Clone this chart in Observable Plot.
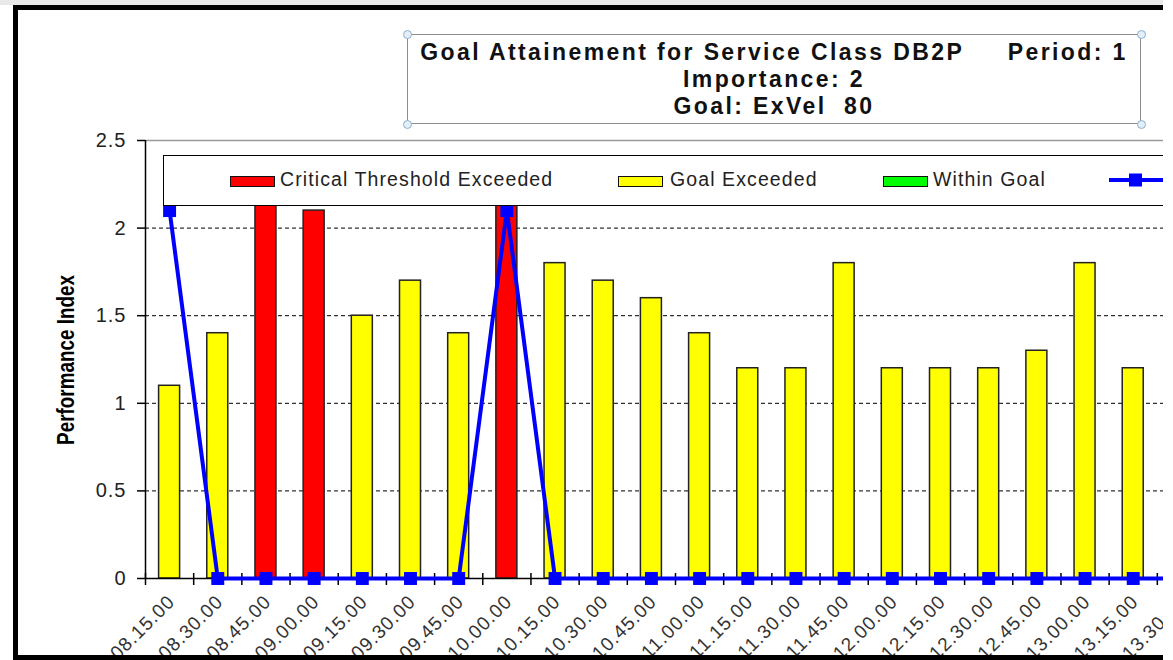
<!DOCTYPE html>
<html><head><meta charset="utf-8">
<script src="https://cdn.jsdelivr.net/npm/d3@7"></script>
<script src="https://cdn.jsdelivr.net/npm/@observablehq/plot@0.6"></script>
<style>
html,body{margin:0;padding:0;background:#fff;}
#wrap{position:relative;width:1163px;height:660px;overflow:hidden;background:#fff;font-family:"Liberation Sans",Arial,sans-serif;}
#topstrip{position:absolute;left:0;top:0;width:1163px;height:5px;background:#e9e9e9;}
#chart{position:absolute;left:0;top:0;width:1220px;height:660px;}
#chart svg{max-width:none !important;display:block;}
#chart svg text{letter-spacing:1px;}
#frame{position:absolute;left:13px;top:5px;width:1300px;height:655px;border:5px solid #000;box-sizing:border-box;pointer-events:none;}
#title{position:absolute;left:407px;top:34px;width:734px;height:90px;border:1.5px solid #8c8c8c;box-sizing:border-box;background:#fff;text-align:center;font-weight:bold;font-size:23px;letter-spacing:2.4px;line-height:27px;color:#111;padding-top:3.5px;white-space:pre;}
.handle{position:absolute;width:9px;height:9px;border-radius:50%;border:1.5px solid #8fb0cc;background:#e4eef6;box-sizing:border-box;}
#legend{position:absolute;left:163px;top:155px;width:1100px;height:51px;border:1.5px solid #000;box-sizing:border-box;background:#fff;}
.sw{position:absolute;top:19.5px;width:45px;height:11px;border:1.5px solid #111;box-sizing:border-box;}
.lt{position:absolute;top:14.3px;font-size:19.5px;line-height:1;letter-spacing:1.1px;color:#222;white-space:pre;}
#ylabel{position:absolute;left:66px;top:360px;transform:translate(-50%,-50%) rotate(-90deg) scaleX(0.82);font-weight:bold;font-size:23px;white-space:pre;color:#000;}
</style>
</head><body>
<div id="wrap">
  <div id="topstrip"></div>
  <div id="chart"></div>
  <div id="ylabel">Performance Index</div>
  <div id="legend"></div>
  <div id="title"></div>
  <div id="frame"></div>
</div>
<script>
const categories = ["08.15.00","08.30.00","08.45.00","09.00.00","09.15.00","09.30.00","09.45.00","10.00.00","10.15.00","10.30.00","10.45.00","11.00.00","11.15.00","11.30.00","11.45.00","12.00.00","12.15.00","12.30.00","12.45.00","13.00.00","13.15.00","13.30.00"];
const perfIndex = [1.1,1.4,2.3,2.1,1.5,1.7,1.4,2.3,1.8,1.7,1.6,1.4,1.2,1.2,1.8,1.2,1.2,1.2,1.3,1.8,1.2,null];
const status = ["Goal Exceeded","Goal Exceeded","Critical Threshold Exceeded","Critical Threshold Exceeded","Goal Exceeded","Goal Exceeded","Goal Exceeded","Critical Threshold Exceeded","Goal Exceeded","Goal Exceeded","Goal Exceeded","Goal Exceeded","Goal Exceeded","Goal Exceeded","Goal Exceeded","Goal Exceeded","Goal Exceeded","Goal Exceeded","Goal Exceeded","Goal Exceeded","Goal Exceeded","Goal Exceeded"];
const lineValues = [2.1,0,0,0,0,0,0,2.1,0,0,0,0,0,0,0,0,0,0,0,0,0,0];
const yTicks = [0,0.5,1,1.5,2,2.5];
const gridTicks = [0.5,1,1.5,2];
const legendNames = ["Critical Threshold Exceeded","Goal Exceeded","Within Goal"];
const legendColors = ["#ff0000","#ffff00","#00ff00"];
const titleLines = ["Goal Attainement for Service Class DB2P     Period: 1","Importance: 2","Goal: ExVel  80"];

const data = categories.map((c,i)=>({time:c, value:perfIndex[i], status:status[i], line:lineValues[i]}));
const colorOf = Object.fromEntries(legendNames.map((n,i)=>[n,legendColors[i]]));

const W = 1220, ML = 145, MR = 15;
const step = (W - ML - MR) / categories.length;
const pxPerUnit = (660 - 82 - 140) / 2.5;

const chart = Plot.plot({
  width: W, height: 660,
  marginLeft: ML, marginRight: MR, marginTop: 140, marginBottom: 82,
  style: {fontFamily: '"Liberation Sans", Arial, sans-serif', background: "transparent", maxWidth: "none"},
  x: {domain: categories, padding: 0, round: false, axis: null},
  y: {domain: [0, 2.5], axis: null},
  marks: [
    Plot.ruleY(gridTicks, {stroke: "#000", strokeWidth: 1, strokeDasharray: "4,3"}),
    Plot.ruleY([2.5], {stroke: "#9a9a9a", strokeWidth: 1.5}),
    Plot.barY(data.filter(d => d.value != null), {x: "time", y: "value", fill: d => colorOf[d.status], stroke: "#222", strokeWidth: 1.5, insetLeft: (step-21)/2, insetRight: (step-21)/2}),
    Plot.ruleY([0], {stroke: "#000", strokeWidth: 1.5}),
    Plot.ruleX([categories[0]], {x: d => d, dx: -step/2, stroke: "#000", strokeWidth: 1.5}),
    Plot.ruleX(categories, {x: d => d, dx: -step/2, y1: -7/pxPerUnit, y2: 5/pxPerUnit, stroke: "#000", strokeWidth: 1.5}),
    Plot.axisY({ticks: yTicks, tickSize: 8, tickPadding: 11, fontSize: 20, tickFormat: d => String(d), stroke: "#000", strokeWidth: 1.5, fill: "#222"}),
    Plot.text(categories, {x: d => d, y: 0, text: d => d, rotate: -45, textAnchor: "end", dx: 2, dy: 20, fontSize: 19, fill: "#333"}),
    Plot.line(data, {x: "time", y: "line", stroke: "#0000ff", strokeWidth: 4}),
    Plot.dot(data, {x: "time", y: "line", symbol: "square", r: 7.3, fill: "#0000ff", stroke: "none"})
  ]
});
chart.style.maxWidth = "none";
document.getElementById("chart").appendChild(chart);

// legend
const legend = document.getElementById("legend");
const swX = [66, 454, 719];
const txX = [116, 506, 769];
legendNames.forEach((n,i)=>{
  const s = document.createElement("div"); s.className = "sw"; s.style.left = swX[i]+"px"; s.style.background = legendColors[i]; legend.appendChild(s);
  const t = document.createElement("div"); t.className = "lt"; t.style.left = txX[i]+"px"; t.textContent = n; legend.appendChild(t);
});
const ls = document.createElementNS("http://www.w3.org/2000/svg","svg");
ls.setAttribute("width","60"); ls.setAttribute("height","20");
ls.style.position="absolute"; ls.style.left="945px"; ls.style.top="14px";
ls.innerHTML = '<line x1="0" y1="10" x2="60" y2="10" stroke="#0000ff" stroke-width="4"/><rect x="20" y="3.5" width="13" height="13" fill="#0000ff"/>';
legend.appendChild(ls);

// title
const title = document.getElementById("title");
title.textContent = titleLines.join("\n");
[[407,34],[407,124],[1141,34],[1141,124]].forEach(([x,y])=>{
  const h = document.createElement("div"); h.className="handle"; h.style.left=(x-4.5)+"px"; h.style.top=(y-4.5)+"px";
  document.getElementById("wrap").appendChild(h);
});
</script>
</body></html>
